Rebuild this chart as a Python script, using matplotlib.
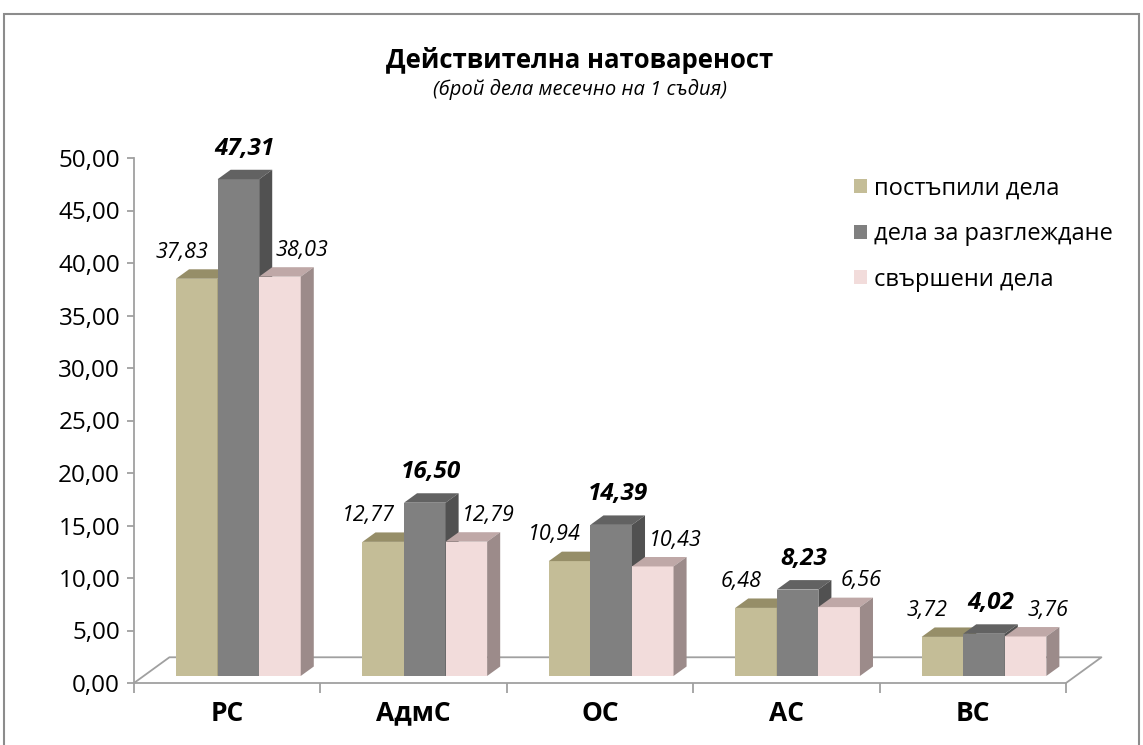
import numpy as np
import matplotlib.pyplot as plt
from matplotlib.patches import Polygon, Patch, Rectangle

plt.rcParams['font.family'] = ['Open Sans', 'DejaVu Sans']

# data
courts = ["РС", "АдмС", "ОС", "АС", "ВС"]
series_names = ["постъпили дела", "дела за разглеждане", "свършени дела"]
incoming = [37.83, 12.77, 10.94, 6.48, 3.72]
to_review = [47.31, 16.50, 14.39, 8.23, 4.02]
finished = [38.03, 12.79, 10.43, 6.56, 3.76]
y_ticks = [0, 5, 10, 15, 20, 25, 30, 35, 40, 45, 50]

series = [incoming, to_review, finished]
front_col = ["#C4BD97", "#808080", "#F2DCDB"]
top_col = ["#968E68", "#626262", "#BFA8A7"]
side_col = ["#8A835F", "#515151", "#9C8B8A"]

fig = plt.figure(figsize=(11.43, 7.45), dpi=100)
W, H = 1143, 745
ax = fig.add_axes([134 / W, (H - 683) / H, (1066 - 134) / W, 525 / H])
ax.set_xlim(-0.5, 4.5)
ax.set_ylim(0, 50)

# pseudo 3d settings (in data units)
floor_dx, floor_dy = 0.19, 2.45
base = 0.67
shift = 0.06
bw = 0.223
dep_x, dep_y = 0.07, 0.9

# floor outline
n = len(courts)
ax.plot([-0.5, -0.5 + floor_dx, n - 0.5 + floor_dx, n - 0.5],
        [0, floor_dy, floor_dy, 0], color="#A0A0A0", lw=1.3, clip_on=False, zorder=1)

x = np.arange(n)
for k, vals in enumerate(series):
    xs = x + shift + (k - 1) * bw
    ax.bar(xs, vals, width=bw, bottom=base, color=front_col[k], zorder=2 + k, clip_on=False)
    for xi, v in zip(xs, vals):
        l, r, t = xi - bw / 2, xi + bw / 2, base + v
        ax.add_patch(Polygon([(l, t), (l + dep_x, t + dep_y), (r + dep_x, t + dep_y), (r, t)],
                             closed=True, facecolor=top_col[k], edgecolor="none",
                             zorder=2 + k, clip_on=False))
        ax.add_patch(Polygon([(r, base), (r, t), (r + dep_x, t + dep_y), (r + dep_x, base + dep_y)],
                             closed=True, facecolor=side_col[k], edgecolor="none",
                             zorder=2 + k, clip_on=False))
        lbl = ("%.2f" % v).replace(".", ",")
        if k == 1:
            ax.text(xi + dep_x / 2, t + dep_y + 2.0, lbl, ha="center", va="center",
                    fontsize=17.5, fontweight="bold", fontstyle="italic", zorder=10, clip_on=False)
        else:
            dx = -0.08 if k == 0 else 0.12
            ax.text(xi + dx, t + dep_y + 1.6, lbl, ha="center", va="center",
                    fontsize=15.5, fontstyle="italic", zorder=10, clip_on=False)

# axes styling
for s in ["top", "right"]:
    ax.spines[s].set_visible(False)
ax.spines["left"].set_color("#A0A0A0")
ax.spines["bottom"].set_color("#A0A0A0")
ax.spines["left"].set_linewidth(1.3)
ax.spines["bottom"].set_linewidth(1.3)
ax.set_yticks(y_ticks)
ax.set_yticklabels([("%.2f" % t).replace(".", ",") for t in y_ticks], fontsize=17.5)
ax.tick_params(axis="y", length=5, width=1.3, color="#A0A0A0", pad=5)
ax.set_xticks(np.arange(-0.5, n, 1.0))
ax.set_xticklabels([])
ax.tick_params(axis="x", which="major", length=7, width=1.3, color="#A0A0A0")
ax.set_xticks(x, minor=True)
ax.set_xticklabels(courts, minor=True, fontsize=19, fontweight="bold")
ax.tick_params(axis="x", which="minor", length=0, pad=12)
ax.patch.set_visible(False)

# titles
fig.text(580 / W, 1 - 60 / H, "Действителна натовареност", ha="center", va="center",
         fontsize=18.5, fontweight="bold")
fig.text(580 / W, 1 - 89 / H, "(брой дела месечно на 1 съдия)", ha="center", va="center",
         fontsize=14.5, fontstyle="italic")

# legend
handles = [Patch(facecolor=c, edgecolor="none") for c in front_col]
fig.legend(handles, series_names, loc="upper left", bbox_to_anchor=(833 / W, 1 - 155 / H),
           frameon=False, fontsize=17, handlelength=0.55, handleheight=0.55,
           handletextpad=0.3, labelspacing=0.92)

# outer border
fig.patches.append(Rectangle((4 / W, -0.01), (1139 - 4) / W, 1 - 14 / H + 0.01,
                             transform=fig.transFigure, fill=False, edgecolor="#8C8C8C", lw=1.5))

fig.savefig("out.png", dpi=100)
